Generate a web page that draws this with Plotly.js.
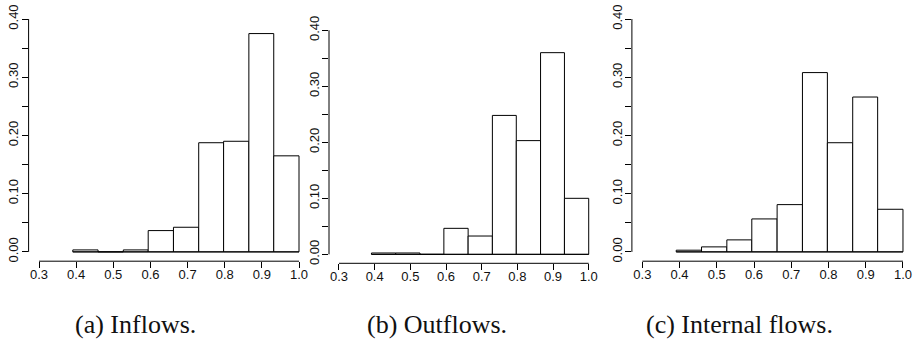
<!DOCTYPE html>
<html>
<head>
<meta charset="utf-8">
<script src="https://cdn.plot.ly/plotly-3.0.1.min.js"></script>
<style>html,body{margin:0;padding:0;background:#fff;}#chart{width:918px;height:340px;}</style>
</head>
<body>
<div id="chart"></div>
<script>
// ---- data ----
const binEdges = [0.391, 0.459, 0.527, 0.594, 0.662, 0.730, 0.797, 0.865, 0.932, 1.0];
const inflows  = [0.0034, 0, 0.0034, 0.0366, 0.0423, 0.1875, 0.190, 0.375, 0.165];
const outflows = [0.0024, 0.0024, 0, 0.0464, 0.0327, 0.248, 0.203, 0.360, 0.100];
const internalFlows = [0.0029, 0.0086, 0.0206, 0.0566, 0.0812, 0.308, 0.1875, 0.266, 0.0732];
const captions = ['(a) Inflows.', '(b) Outflows.', '(c) Internal flows.'];
const xTickVals = [0.3, 0.4, 0.5, 0.6, 0.7, 0.8, 0.9, 1.0];
const xTickText = ['0.3', '0.4', '0.5', '0.6', '0.7', '0.8', '0.9', '1.0'];
const yTickVals = [0, 0.05, 0.10, 0.15, 0.20, 0.25, 0.30, 0.35, 0.40];
const yTickText = ['0.00', '', '0.10', '', '0.20', '', '0.30', '', '0.40'];

// ---- layout geometry (pixels) ----
const W = 918, H = 340;
const panels = [
  {xl: 28.6, xr: 309.4, yt: 9.7, yb: 261.2, cap: 135},
  {xl: 329.0, xr: 598.7, yt: 21.3, yb: 263.3, cap: 437},
  {xl: 631.9, xr: 913.4, yt: 9.7, yb: 261.2, cap: 739}
];
const series = [inflows, outflows, internalFlows];

const centers = binEdges.slice(0, -1).map((e, i) => (e + binEdges[i + 1]) / 2);
const widths = binEdges.slice(0, -1).map((e, i) => binEdges[i + 1] - e);

const tickFont = {family: 'Liberation Sans, Arial, Helvetica, sans-serif', size: 13, color: '#111'};
const data = [];
const layout = {
  width: W, height: H,
  margin: {l: 0, r: 0, t: 0, b: 0},
  paper_bgcolor: '#fff', plot_bgcolor: '#fff',
  showlegend: false,
  shapes: [], annotations: []
};

panels.forEach((p, i) => {
  const sfx = i === 0 ? '' : String(i + 1);
  const xa = 'x' + sfx, ya = 'y' + sfx;
  data.push({
    type: 'scatter', mode: 'lines', xaxis: xa, yaxis: ya,
    x: [binEdges[0], binEdges[binEdges.length - 1]], y: [0, 0],
    line: {color: '#000', width: 1}, hoverinfo: 'skip'
  });
  data.push({
    type: 'bar', xaxis: xa, yaxis: ya,
    x: centers, y: series[i], width: widths,
    marker: {color: '#fff', line: {color: '#000', width: 1}},
    hoverinfo: 'skip'
  });
  layout['xaxis' + sfx] = {
    domain: [p.xl / W, p.xr / W], range: [0.272, 1.028], anchor: ya,
    showgrid: false, zeroline: false, showline: false,
    ticks: 'outside', ticklen: 6, tickwidth: 1, tickcolor: '#000',
    tickmode: 'array', tickvals: xTickVals, ticktext: xTickText,
    tickfont: tickFont, ticklabelstandoff: -5, fixedrange: true
  };
  layout['yaxis' + sfx] = {
    domain: [1 - p.yb / H, 1 - p.yt / H], range: [-0.016, 0.416], anchor: xa,
    showgrid: false, zeroline: false, showline: false,
    ticks: 'outside', ticklen: 6, tickwidth: 1, tickcolor: '#000',
    tickmode: 'array', tickvals: yTickVals, ticktext: yTickText,
    tickangle: -90, tickfont: tickFont, ticklabelstandoff: -2, fixedrange: true
  };
  layout.shapes.push({
    type: 'line', xref: xa, yref: ya + ' domain',
    x0: xTickVals[0], x1: xTickVals[xTickVals.length - 1], y0: 0, y1: 0,
    line: {color: '#000', width: 1}
  });
  layout.shapes.push({
    type: 'line', xref: xa + ' domain', yref: ya,
    x0: 0, x1: 0, y0: yTickVals[0], y1: yTickVals[yTickVals.length - 1],
    line: {color: '#000', width: 1}
  });
  layout.annotations.push({
    xref: 'paper', yref: 'paper', x: p.cap / W, y: 1 - 324 / H,
    xanchor: 'center', yanchor: 'middle', showarrow: false,
    text: captions[i],
    font: {family: 'Liberation Serif, Times New Roman, serif', size: 26, color: '#111'}
  });
});

Plotly.newPlot('chart', data, layout, {displayModeBar: false, staticPlot: true});
</script>
</body>
</html>
